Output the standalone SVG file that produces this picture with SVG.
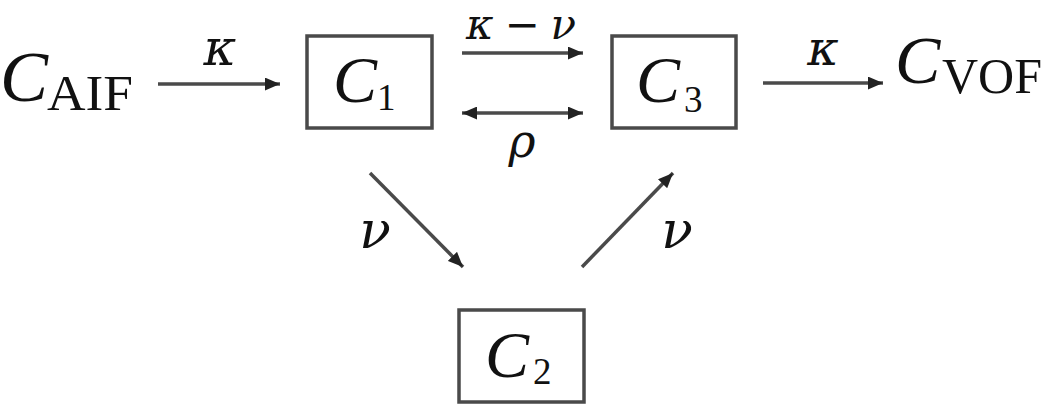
<svg xmlns="http://www.w3.org/2000/svg" width="1050" height="404" viewBox="0 0 1050 404">
<style>
.box{fill:#fff;stroke:#4a4a4a;stroke-width:3.5}
.m{font-family:"Liberation Serif","DejaVu Serif",serif;font-style:italic;fill:#111}
.g{font-family:"DejaVu Serif","Liberation Serif",serif;font-style:italic;fill:#111}
.r{font-family:"Liberation Serif","DejaVu Serif",serif;fill:#111}
.edge{stroke:#4a4a4a;stroke-width:3.5;fill:none}
</style>
<defs>
<marker id="ah" viewBox="0 0 14 12" markerWidth="15" markerHeight="13" markerUnits="userSpaceOnUse" refX="14" refY="6" orient="auto-start-reverse">
<path d="M0,0 L14,6 L0,12 z" fill="#222"/>
</marker>
</defs>
<rect width="1050" height="404" fill="#fff"/>
<g id="CAIF">
<text class="m" x="0" y="101" font-size="72">C</text>
<text class="r" x="47" y="110" font-size="50" textLength="86" lengthAdjust="spacingAndGlyphs">AIF</text>
</g>
<g id="C1">
<rect class="box" x="307" y="36" width="125" height="92"/>
<text class="m" x="333" y="102" font-size="66">C</text>
<text class="r" x="377" y="110" font-size="37">1</text>
</g>
<g id="C3">
<rect class="box" x="612" y="36" width="124" height="92"/>
<text class="m" x="636" y="102" font-size="66">C</text>
<text class="r" x="684" y="112" font-size="37">3</text>
</g>
<g id="C2">
<rect class="box" x="459" y="310" width="125" height="92"/>
<text class="m" x="485" y="377" font-size="66">C</text>
<text class="r" x="533" y="384" font-size="37">2</text>
</g>
<g id="CVOF">
<text class="m" x="895" y="83" font-size="68">C</text>
<text class="r" x="942" y="93" font-size="50">VOF</text>
</g>
<g id="connectors">
<line class="edge" x1="158" y1="84" x2="280" y2="84" marker-end="url(#ah)"/>
<line class="edge" x1="462" y1="53" x2="583" y2="53" marker-end="url(#ah)"/>
<line class="edge" x1="462" y1="113" x2="583" y2="113" marker-start="url(#ah)" marker-end="url(#ah)"/>
<line class="edge" x1="763" y1="83" x2="883" y2="83" marker-end="url(#ah)"/>
<line class="edge" x1="370" y1="173" x2="463" y2="267" marker-end="url(#ah)"/>
<line class="edge" x1="582" y1="267" x2="673" y2="173" marker-end="url(#ah)"/>
<text class="g" x="220" y="65" font-size="50" text-anchor="middle">κ</text>
<text class="g" x="521" y="39" font-size="42" text-anchor="middle" textLength="110" lengthAdjust="spacing">κ−ν</text>
<text class="g" x="522" y="157" font-size="46" text-anchor="middle">ρ</text>
<text class="g" x="823" y="65" font-size="48" text-anchor="middle">κ</text>
<text class="g" x="375" y="248" font-size="52" text-anchor="middle">ν</text>
<text class="g" x="677" y="248" font-size="52" text-anchor="middle">ν</text>
</g>
</svg>
